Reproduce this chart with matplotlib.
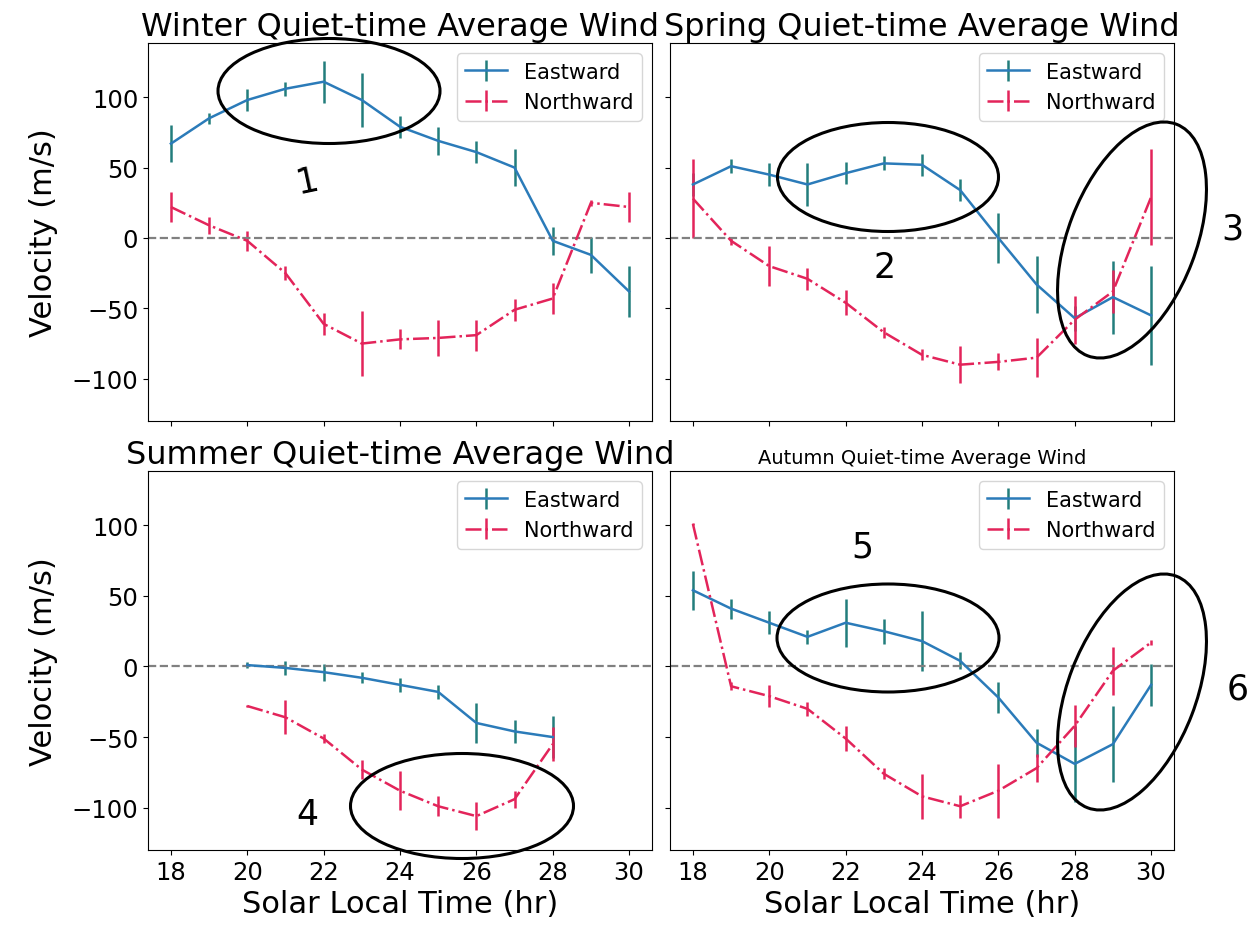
import numpy as np
import matplotlib
matplotlib.use("Agg")
import matplotlib.pyplot as plt
from matplotlib.patches import Ellipse
from matplotlib.transforms import IdentityTransform

# solar local time (hr)
hours = [18, 19, 20, 21, 22, 23, 24, 25, 26, 27, 28, 29, 30]
summer_hours = [20, 21, 22, 23, 24, 25, 26, 27, 28]

winter_east = [67, 85, 98, 106, 111, 98, 79, 69, 61, 50, -2, -12, -38]
winter_east_err = [13, 4, 8, 5, 15, 19, 8, 10, 8, 13, 10, 13, 18]
winter_north = [22, 9, -2, -25, -61, -75, -72, -71, -69, -51, -43, 25, 22]
winter_north_err = [11, 6, 7, 5, 8, 23, 7, 13, 11, 8, 11, 2, 11]

spring_east = [38, 51, 45, 38, 46, 53, 52, 34, 0, -33, -57, -42, -55]
spring_east_err = [8, 5, 8, 15, 8, 5, 8, 8, 18, 20, 9, 26, 35]
spring_north = [28, -2, -20, -29, -46, -67, -83, -90, -88, -85, -58, -38, 29]
spring_north_err = [28, 3, 14, 8, 9, 4, 4, 13, 6, 14, 17, 15, 34]

summer_east = [1, -1, -4, -8, -13, -18, -40, -46, -50]
summer_east_err = [2, 5, 6, 4, 5, 5, 14, 8, 15]
summer_north = [-28, -36, -51, -73, -88, -99, -106, -94, -55]
summer_north_err = [1, 12, 3, 7, 14, 7, 10, 6, 12]

autumn_east = [54, 41, 31, 21, 31, 25, 18, 4, -22, -54, -69, -55, -13]
autumn_east_err = [14, 7, 8, 5, 17, 9, 21, 6, 11, 10, 27, 27, 15]
autumn_north = [101, -14, -21, -30, -51, -76, -92, -99, -88, -72, -42, -3, 17]
autumn_north_err = [1, 3, 8, 5, 9, 4, 16, 8, 19, 10, 15, 17, 2]

east_color = '#2b7bb9'
east_ecolor = '#227d7c'
north_color = '#e3245a'

W, H = 1256, 928
fig = plt.figure(figsize=(W / 100, H / 100), dpi=100)

positions = {
    'tl': [148 / W, 1 - 422 / H, 504 / W, 378 / H],
    'tr': [670 / W, 1 - 422 / H, 504 / W, 378 / H],
    'bl': [148 / W, 1 - 851 / H, 504 / W, 379 / H],
    'br': [670 / W, 1 - 851 / H, 504 / W, 379 / H],
}

panels = [
    ('tl', 'Winter Quiet-time Average Wind', 23, hours, winter_east, winter_east_err,
     hours, winter_north, winter_north_err),
    ('tr', 'Spring Quiet-time Average Wind', 23, hours, spring_east, spring_east_err,
     hours, spring_north, spring_north_err),
    ('bl', 'Summer Quiet-time Average Wind', 23, summer_hours, summer_east, summer_east_err,
     summer_hours, summer_north, summer_north_err),
    ('br', 'Autumn Quiet-time Average Wind', 14, hours, autumn_east, autumn_east_err,
     hours, autumn_north, autumn_north_err),
]

for key, title, tsize, xe, ye, ee, xn, yn, en in panels:
    ax = fig.add_axes(positions[key])
    ax.errorbar(xe, ye, yerr=ee, color=east_color, ecolor=east_ecolor, lw=1.8,
                elinewidth=1.8, label='Eastward')
    ax.errorbar(xn, yn, yerr=en, color=north_color, ecolor=north_color, lw=1.8,
                elinewidth=1.8, linestyle='-.', label='Northward')
    ax.axhline(0, color='grey', linestyle='--', lw=1.6)
    ax.set_xlim(17.4, 30.6)
    ax.set_ylim(-130, 138.5)
    ax.set_xticks([18, 20, 22, 24, 26, 28, 30])
    ax.set_yticks([-100, -50, 0, 50, 100])
    ax.tick_params(labelsize=17.5)
    ax.set_title(title, fontsize=tsize)
    ax.legend(loc='upper right', fontsize=15)
    if key in ('tl', 'tr'):
        ax.tick_params(labelbottom=False)
    else:
        ax.set_xlabel('Solar Local Time (hr)', fontsize=22)
    if key in ('tr', 'br'):
        ax.tick_params(labelleft=False)
    else:
        ax.set_ylabel('Velocity (m/s)', fontsize=22, labelpad=10)

# hand-drawn annotations (image pixel coords: cx, cy, width, height, angle)
ellipses = [
    (329, 92, 222, 105, 0),
    (888, 178, 221, 109, 0),
    (1132, 241, 248, 128, 69),
    (462, 807, 223, 105, 0),
    (888, 639, 222, 108, 0),
    (1132, 693, 248, 128, 69),
]
for cx, cy, w, h, ang in ellipses:
    e = Ellipse((cx, H - cy), w, h, angle=ang, transform=IdentityTransform(),
                fill=False, edgecolor='black', lw=2.2)
    fig.add_artist(e)

labels = [('1', 307, 182, 12), ('2', 885, 268, 0), ('3', 1232, 230, 0),
          ('4', 307, 815, 0), ('5', 862, 548, 0), ('6', 1238, 690, 0)]
for txt, x, y, rot in labels:
    fig.text(x / W, 1 - y / H, txt, fontsize=25, ha='center', va='center',
             color='black', rotation=rot)

fig.savefig('out.png', dpi=100)
